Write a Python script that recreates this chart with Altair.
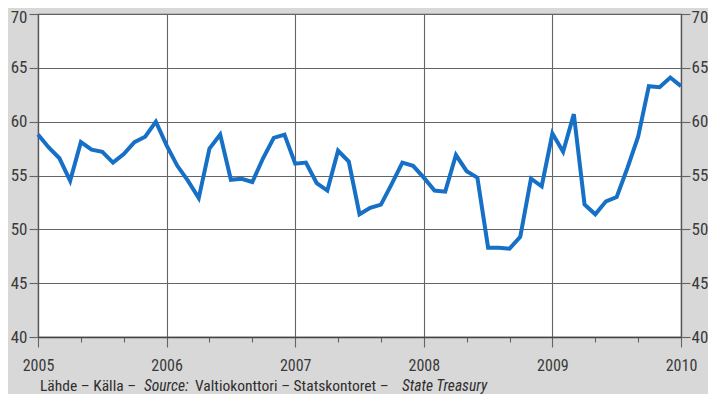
import altair as alt
import pandas as pd

# ---- data (monthly, Jan 2005 .. Jan 2010) ----
start_year = 2005
values = [58.8, 57.6, 56.6, 54.5, 58.1, 57.4, 57.2, 56.2, 57.0, 58.1, 58.6, 60.0,
          57.8, 55.9, 54.5, 52.9, 57.5, 58.8, 54.6, 54.7, 54.4, 56.6, 58.5, 58.8,
          56.1, 56.2, 54.3, 53.6, 57.3, 56.3, 51.4, 52.0, 52.3, 54.2, 56.2, 55.9,
          54.8, 53.6, 53.5, 56.9, 55.4, 54.8, 48.3, 48.3, 48.2, 49.3, 54.7, 54.0,
          58.9, 57.2, 60.7, 52.3, 51.4, 52.6, 53.0, 55.7, 58.6, 63.3, 63.2, 64.1, 63.3]
y_ticks = [40, 45, 50, 55, 60, 65, 70]
x_ticks = [start_year + i / 12 for i in range(61)]
source_parts = ["Lähde – Källa – ", "Source:", "Valtiokonttori – Statskontoret –", "State Treasury"]

df = pd.DataFrame({"t": x_ticks, "v": values})

FONT = "Roboto Condensed"
GRID = "#646464"
LABEL = "#3a3a3a"

half_year = "abs(datum.value*2 - round(datum.value*2)) < 0.001"
full_year = "abs(datum.value - round(datum.value)) < 0.001"
top_label = {"condition": {"test": "datum.value == 70", "value": 3}, "value": 0}

x_enc = alt.X(
    "t:Q",
    scale=alt.Scale(domain=[2005, 2010], nice=False, zero=False),
    axis=alt.Axis(
        values=x_ticks,
        labelExpr=f"{full_year} ? format(datum.value, 'd') : ''",
        labelOverlap=False,
        labelFlush=False,
        grid=True,
        gridColor=GRID,
        gridWidth=1.1,
        gridOpacity={"condition": {"test": half_year, "value": 1}, "value": 0},
        tickSize={"condition": {"test": half_year, "value": 10}, "value": 5},
        tickColor=GRID,
        tickWidth=1.1,
        domainColor="#444444",
        domainWidth=1.6,
        labelFont=FONT,
        labelFontSize=16,
        labelColor=LABEL,
        labelPadding=10,
        title=None,
    ),
)

y_scale = alt.Scale(domain=[40, 70], nice=False, zero=False)

line = alt.Chart(df).mark_line(color="#1670c6", strokeWidth=4, strokeJoin="miter").encode(
    x=x_enc,
    y=alt.Y(
        "v:Q",
        scale=y_scale,
        axis=alt.Axis(
            values=y_ticks,
            orient="left",
            grid=True,
            gridColor=GRID,
            gridWidth=1.1,
            tickSize=9,
            tickColor=GRID,
            tickWidth=1.1,
            domainColor="#555555",
            domainWidth=1.3,
            labelFont=FONT,
            labelFontSize=17,
            labelColor=LABEL,
            labelPadding=2,
            labelOffset=top_label,
            title=None,
        ),
    ),
)

right = alt.Chart(df).mark_line(opacity=0).encode(
    x=alt.X("t:Q", scale=alt.Scale(domain=[2005, 2010], nice=False, zero=False)),
    y=alt.Y(
        "v:Q",
        scale=y_scale,
        axis=alt.Axis(
            values=y_ticks,
            orient="right",
            grid=False,
            tickSize=9,
            tickColor=GRID,
            tickWidth=1.1,
            domainColor="#555555",
            domainWidth=1.3,
            labelFont=FONT,
            labelFontSize=17,
            labelColor=LABEL,
            labelPadding=1,
            labelOffset=top_label,
            title=None,
        ),
    ),
)

one = pd.DataFrame({"a": [0]})
src_x = [2, 106, 157, 364]
src_style = ["normal", "italic", "normal", "italic"]
texts = []
for txt, px, st in zip(source_parts, src_x, src_style):
    texts.append(
        alt.Chart(one).mark_text(
            text=txt, align="left", baseline="alphabetic", font=FONT,
            fontSize=15.5, fontStyle=st, color="#2e2e2e"
        ).encode(x=alt.value(px), y=alt.value(377))
    )

chart = alt.layer(line, right, *texts).resolve_scale(y="independent").properties(
    width=643,
    height=323,
    autosize=alt.AutoSizeParams(type="none"),
    padding={"left": 30, "top": 6, "right": 27, "bottom": 57},
    background="#d8d8d8",
).configure_view(fill="white", stroke="#555555", strokeWidth=1.1)

chart.save("out.html", embed_options={"renderer": "svg", "actions": False})
